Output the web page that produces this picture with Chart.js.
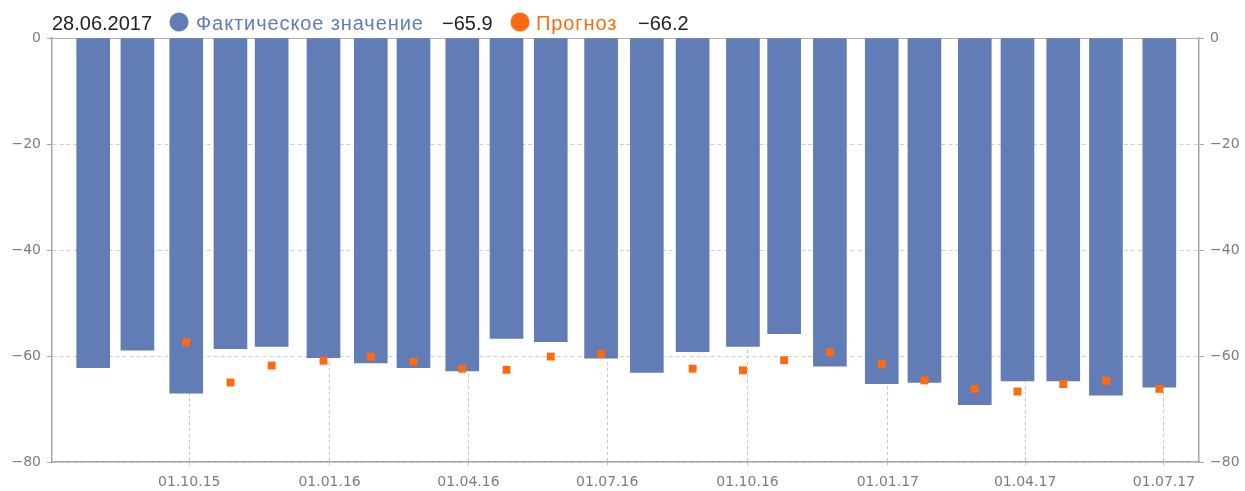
<!DOCTYPE html>
<html>
<head>
<meta charset="utf-8">
<script src="https://cdn.jsdelivr.net/npm/chart.js@4"></script>
<style>
  html, body { margin: 0; padding: 0; background: #fff; }
  #chart { display: block; }
</style>
</head>
<body>
<canvas id="chart" width="1245" height="491"></canvas>
<script>
// release dates (yyyy-mm-dd), actual values and forecasts
var releaseDates = ['2015-07-30', '2015-08-28', '2015-09-29', '2015-10-28', '2015-11-24', '2015-12-28',
    '2016-01-28', '2016-02-25', '2016-03-28', '2016-04-26', '2016-05-25', '2016-06-27',
    '2016-07-27', '2016-08-26', '2016-09-28', '2016-10-25', '2016-11-24', '2016-12-28',
    '2017-01-25', '2017-02-27', '2017-03-27', '2017-04-26', '2017-05-24', '2017-06-28'];
var actual = [-62.2, -58.9, -67.0, -58.6, -58.2, -60.3, -61.3, -62.2, -62.8, -56.7, -57.3, -60.4,
    -63.1, -59.2, -58.2, -55.8, -61.9, -65.2, -65.0, -69.2, -64.7, -64.7, -67.4, -65.9];
var forecast = [null, null, -57.4, -65.0, -61.8, -60.9, -60.1, -61.1, -62.4, -62.6, -60.1, -59.6,
    null, -62.4, -62.7, -60.8, -59.3, -61.5, -64.6, -66.2, -66.7, -65.3, -64.7, -66.2];
var xTickLabels = ['01.10.15', '01.01.16', '01.04.16', '01.07.16', '01.10.16', '01.01.17', '01.04.17', '01.07.17'];
var yTicks = [0, -20, -40, -60, -80];
var xRange = ['2015-07-03', '2017-07-24'];

var actualLabel = 'Фактическое значение';
var forecastLabel = 'Прогноз';

var blue = '#627db5';
var orange = '#ff6a10';

function dayNum(iso) {
    var p = iso.split('-');
    return Date.UTC(+p[0], +p[1] - 1, +p[2]) / 86400000;
}
function tickDay(lbl) {
    var p = lbl.split('.');
    return dayNum('20' + p[2] + '-' + p[1] + '-' + p[0]);
}
function fmt(v) {
    return v < 0 ? '\u2212' + Math.abs(v) : String(v);
}

var xTickDays = xTickLabels.map(tickDay);

var barData = releaseDates.map(function (d, i) { return { x: dayNum(d), y: actual[i] }; });
var pointData = [];
releaseDates.forEach(function (d, i) {
    if (forecast[i] !== null) pointData.push({ x: dayNum(d), y: forecast[i] });
});

var lastIdx = releaseDates.length - 1;
var lastDate = releaseDates[lastIdx].split('-').reverse().join('.');

// header line: date, legend markers and last values
var header = {
    id: 'header',
    afterDraw: function (chart) {
        var c = chart.ctx;
        c.save();
        c.font = '20px "Liberation Sans", Arial, sans-serif';
        c.textBaseline = 'alphabetic';
        var base = 30;
        c.fillStyle = '#222';
        c.fillText(lastDate, 52, base);
        c.fillText(fmt(actual[lastIdx]), 442, base);
        c.fillText(fmt(forecast[lastIdx]), 638, base);

        c.fillStyle = blue;
        c.beginPath();
        c.arc(179, 22, 9.5, 0, Math.PI * 2);
        c.fill();
        c.fillStyle = orange;
        c.beginPath();
        c.arc(520, 22, 9.5, 0, Math.PI * 2);
        c.fill();

        c.letterSpacing = '0.9px';
        c.fillStyle = blue;
        c.fillText(actualLabel, 196, base);
        c.fillStyle = orange;
        c.fillText(forecastLabel, 536, base);
        c.restore();
    }
};

var tickFont = { family: '"DejaVu Sans", sans-serif', size: 14 };
var tickColor = '#7d7d7d';

var ctx = document.getElementById('chart').getContext('2d');
var myChart = new Chart(ctx, {
    type: 'bar',
    data: {
        datasets: [{
            type: 'scatter',
            label: forecastLabel,
            data: pointData,
            backgroundColor: orange,
            borderWidth: 0,
            pointStyle: 'rect',
            pointRadius: 5.6,
            order: 0,
            yAxisID: 'y'
        }, {
            type: 'bar',
            label: actualLabel,
            data: barData,
            backgroundColor: blue,
            borderWidth: 0,
            barThickness: 33,
            order: 1,
            yAxisID: 'y'
        }]
    },
    options: {
        responsive: false,
        animation: false,
        layout: { padding: { top: 38, left: 0, right: 0, bottom: 0 } },
        plugins: {
            legend: { display: false },
            tooltip: { enabled: false }
        },
        scales: {
            x: {
                type: 'linear',
                min: dayNum(xRange[0]),
                max: dayNum(xRange[1]),
                offset: false,
                afterBuildTicks: function (scale) {
                    scale.ticks = xTickDays.map(function (v) { return { value: v }; });
                },
                afterFit: function (scale) { scale.height = 29; },
                grid: {
                    offset: false,
                    color: '#c4c4c4',
                    lineWidth: 1,
                    tickLength: 6,
                    tickColor: '#c4c4c4',
                    tickBorderDash: [3, 3]
                },
                border: { display: true, color: '#a6a6a6', width: 1.5, dash: [3, 3] },
                ticks: {
                    autoSkip: false,
                    maxRotation: 0,
                    padding: 6,
                    color: tickColor,
                    font: tickFont,
                    callback: function (v) {
                        var i = xTickDays.indexOf(v);
                        return i >= 0 ? xTickLabels[i] : '';
                    }
                }
            },
            y: {
                position: 'left',
                min: yTicks[yTicks.length - 1],
                max: yTicks[0],
                afterBuildTicks: function (scale) {
                    scale.ticks = yTicks.map(function (v) { return { value: v }; });
                },
                afterFit: function (scale) { scale.width = 52; },
                grid: {
                    color: function (c) { return c.tick && c.tick.value === 0 ? '#b0b0b0' : '#cfcfcf'; },
                    lineWidth: 1,
                    tickLength: 5,
                    tickColor: '#a6a6a6'
                },
                border: {
                    display: true,
                    color: '#a6a6a6',
                    width: 1.5,
                    dash: function (c) { return c.tick && c.tick.value !== 0 ? [4, 3] : []; }
                },
                ticks: { padding: 6, color: tickColor, font: tickFont, callback: fmt }
            },
            y2: {
                position: 'right',
                min: yTicks[yTicks.length - 1],
                max: yTicks[0],
                afterBuildTicks: function (scale) {
                    scale.ticks = yTicks.map(function (v) { return { value: v }; });
                },
                afterFit: function (scale) { scale.width = 46; },
                grid: { drawOnChartArea: false, tickLength: 5, tickColor: '#a6a6a6' },
                border: { display: true, color: '#a6a6a6', width: 1.5 },
                ticks: { padding: 6, color: tickColor, font: tickFont, callback: fmt }
            }
        }
    },
    plugins: [header]
});
</script>
</body>
</html>
